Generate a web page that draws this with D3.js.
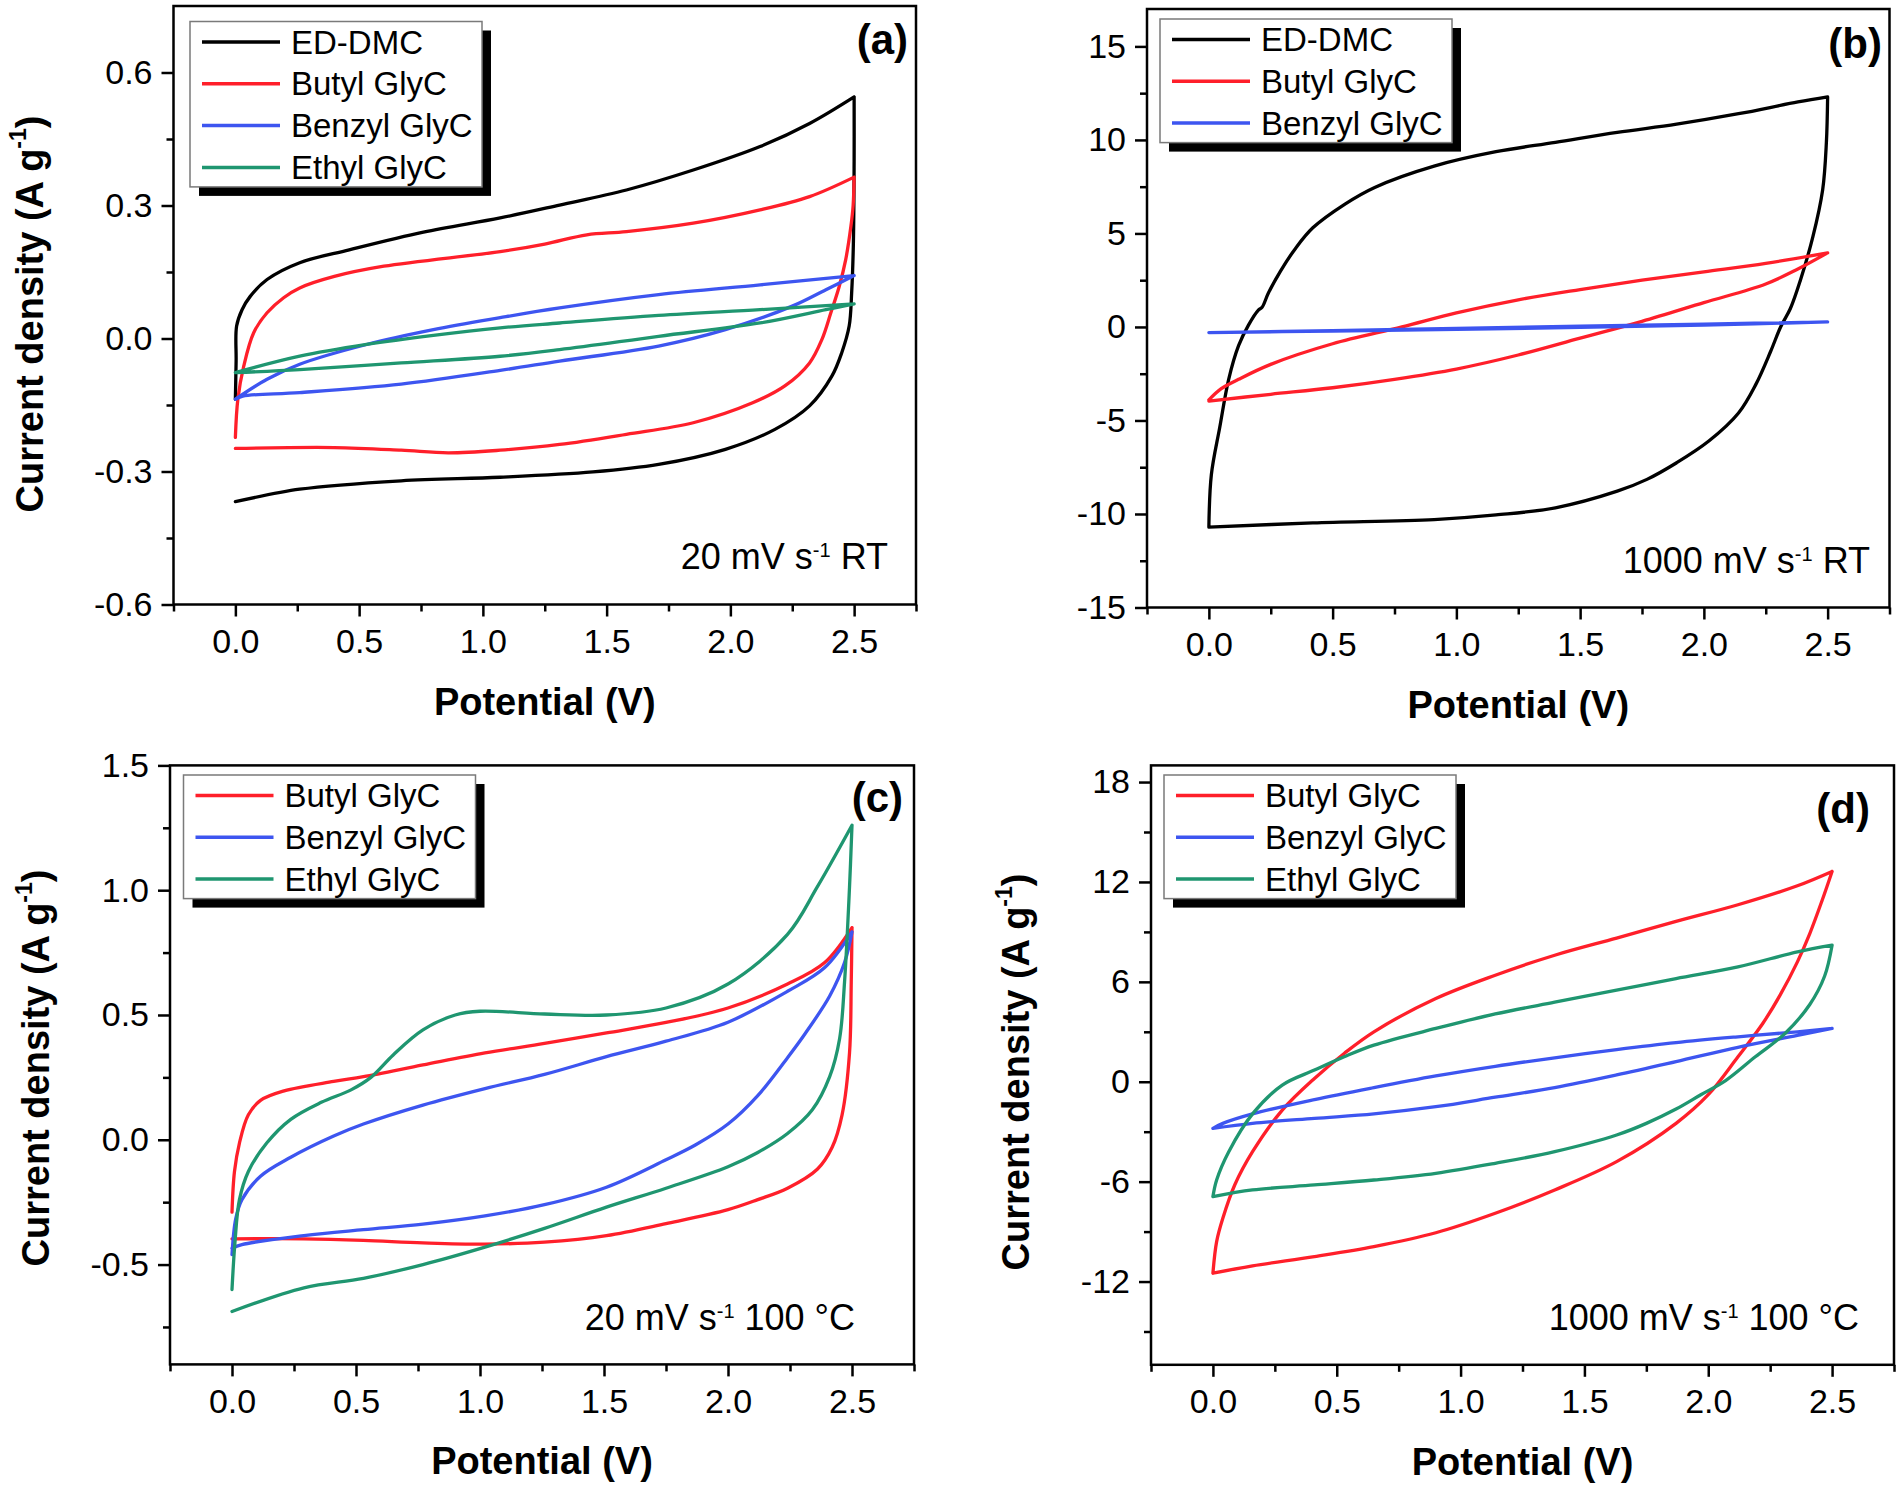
<!DOCTYPE html>
<html>
<head>
<meta charset="utf-8">
<script src="https://cdnjs.cloudflare.com/ajax/libs/d3/7.8.5/d3.min.js"></script>
<style>
  body { margin: 0; background: #fff; }
  text { font-family: "Liberation Sans", Arial, sans-serif; }
</style>
</head>
<body>
<svg id="fig" width="1900" height="1488"></svg>
<script>
// ---- data: [potential V, current density A/g], forward sweep then reverse ----
const xTicks = [0, 0.5, 1.0, 1.5, 2.0, 2.5];
const xMinor = [-0.25, 0.25, 0.75, 1.25, 1.75, 2.25, 2.75];

// (a) 20 mV/s RT
const a_ED_DMC = [[0,-0.137],[0.003,-0.05],[0.005,0.028],[0.027,0.065],[0.06,0.095],[0.128,0.133],[0.26,0.171],[0.46,0.20],[0.76,0.24],[1.07,0.272],[1.31,0.301],[1.58,0.335],[1.85,0.38],[2.12,0.433],[2.32,0.485],[2.5,0.545],
  [2.5,0.40],[2.497,0.215],[2.49,0.103],[2.48,0.028],[2.45,-0.032],[2.41,-0.085],[2.32,-0.152],[2.18,-0.205],[1.98,-0.25],[1.71,-0.284],[1.445,-0.301],[1.07,-0.313],[0.67,-0.321],[0.26,-0.34],[0,-0.368]];
const a_Butyl = [[0,-0.223],[0.01,-0.137],[0.034,-0.062],[0.074,0.013],[0.128,0.058],[0.195,0.092],[0.26,0.114],[0.40,0.14],[0.60,0.163],[1.07,0.196],[1.25,0.213],[1.42,0.234],[1.58,0.241],[1.85,0.26],[2.12,0.29],[2.32,0.32],[2.5,0.364],
  [2.496,0.30],[2.487,0.253],[2.466,0.178],[2.44,0.118],[2.406,0.058],[2.37,-0.002],[2.32,-0.055],[2.22,-0.107],[2.09,-0.145],[1.85,-0.19],[1.58,-0.216],[1.31,-0.239],[1.07,-0.252],[0.86,-0.258],[0.67,-0.252],[0.40,-0.246],[0,-0.248]];
const a_Benzyl = [[0,-0.137],[0.128,-0.092],[0.26,-0.058],[0.53,-0.0135],[0.80,0.02],[1.07,0.047],[1.31,0.069],[1.71,0.099],[2.12,0.121],[2.5,0.142],
  [2.386,0.11],[2.25,0.073],[1.98,0.02],[1.71,-0.017],[1.31,-0.051],[1.07,-0.072],[0.67,-0.103],[0.26,-0.122],[0.03,-0.13],[0,-0.137]];
const a_Ethyl = [[0,-0.077],[0.26,-0.04],[0.53,-0.0135],[0.80,0.007],[1.07,0.024],[1.31,0.035],[1.71,0.052],[2.12,0.065],[2.5,0.078],
  [2.386,0.065],[2.12,0.035],[1.71,0.005],[1.31,-0.025],[1.07,-0.04],[0.67,-0.055],[0.26,-0.07],[0,-0.077]];

// (b) 1000 mV/s RT
const b_ED_DMC = [[0,-10.7],[0.01,-7.9],[0.044,-5.36],[0.08,-2.8],[0.12,-1.0],[0.16,0.1],[0.2,0.9],[0.215,1.05],[0.24,1.8],[0.29,3.0],[0.35,4.2],[0.42,5.3],[0.55,6.57],[0.67,7.46],[0.91,8.6],[1.16,9.37],[1.40,9.87],[1.65,10.4],[1.89,10.84],[2.14,11.4],[2.38,12.03],[2.5,12.3],
  [2.495,9.87],[2.48,7.34],[2.44,4.8],[2.39,2.5],[2.35,1.0],[2.31,0],[2.27,-1.3],[2.21,-3.07],[2.14,-4.6],[2.02,-6.1],[1.89,-7.26],[1.77,-8.15],[1.65,-8.78],[1.40,-9.67],[1.16,-10.05],[0.91,-10.3],[0.42,-10.48],[0,-10.7]];
const b_Butyl = [[0,-3.9],[0.05,-3.3],[0.12,-2.8],[0.25,-2.0],[0.5,-0.9],[0.78,0.0],[1.0,0.75],[1.25,1.45],[1.5,2.0],[1.75,2.5],[2.0,2.95],[2.25,3.4],[2.5,3.96],
  [2.38,3.1],[2.25,2.3],[2.0,1.3],[1.75,0.3],[1.5,-0.6],[1.25,-1.5],[1.0,-2.25],[0.75,-2.8],[0.5,-3.25],[0.25,-3.6],[0,-3.96]];
const b_Benzyl = [[0,-0.3],[0.5,-0.2],[1.0,-0.08],[1.5,0.04],[2.0,0.15],[2.5,0.27],
  [2.0,0.1],[1.5,-0.02],[1.0,-0.13],[0.5,-0.22],[0,-0.3]];

// (c) 20 mV/s 100 C
const c_Butyl = [[0,-0.29],[0.01,-0.127],[0.03,-0.013],[0.066,0.1],[0.115,0.158],[0.21,0.196],[0.41,0.234],[0.53,0.253],[0.77,0.30],[1.02,0.348],[1.26,0.386],[1.51,0.428],[1.75,0.47],[2.0,0.528],[2.24,0.624],[2.39,0.71],[2.5,0.85],
  [2.497,0.633],[2.49,0.348],[2.46,0.1],[2.42,-0.03],[2.36,-0.118],[2.24,-0.194],[2.12,-0.24],[2.0,-0.28],[1.75,-0.336],[1.51,-0.384],[1.26,-0.41],[1.02,-0.418],[0.77,-0.413],[0.53,-0.403],[0.29,-0.397],[0,-0.397]];
const c_Benzyl = [[0,-0.46],[0.015,-0.317],[0.04,-0.24],[0.115,-0.146],[0.237,-0.07],[0.41,0.015],[0.53,0.063],[0.77,0.139],[1.02,0.205],[1.26,0.262],[1.51,0.333],[1.75,0.395],[2.0,0.471],[2.24,0.595],[2.39,0.69],[2.5,0.833],
  [2.47,0.71],[2.41,0.576],[2.31,0.424],[2.24,0.329],[2.12,0.177],[2.0,0.063],[1.87,-0.02],[1.75,-0.08],[1.51,-0.19],[1.26,-0.26],[1.02,-0.305],[0.77,-0.338],[0.53,-0.36],[0.29,-0.384],[0.04,-0.42],[0,-0.435]];
const c_Ethyl = [[0,-0.6],[0.012,-0.41],[0.03,-0.24],[0.066,-0.127],[0.14,-0.013],[0.237,0.082],[0.36,0.15],[0.48,0.2],[0.56,0.25],[0.65,0.34],[0.77,0.44],[0.90,0.5],[1.0,0.515],[1.26,0.504],[1.51,0.5],[1.75,0.528],[2.0,0.624],[2.24,0.823],[2.36,1.013],[2.5,1.26],
  [2.49,1.013],[2.47,0.633],[2.45,0.405],[2.41,0.253],[2.34,0.12],[2.24,0.025],[2.12,-0.051],[2.0,-0.108],[1.75,-0.194],[1.51,-0.27],[1.26,-0.355],[1.02,-0.43],[0.77,-0.50],[0.53,-0.555],[0.29,-0.593],[0,-0.688]];

// (d) 1000 mV/s 100 C
const d_Butyl = [[0,-11.5],[0.015,-9.6],[0.04,-8.2],[0.088,-6.2],[0.16,-4.2],[0.28,-1.7],[0.41,0.2],[0.53,1.7],[0.65,3.0],[0.90,5.0],[1.14,6.4],[1.38,7.6],[1.63,8.63],[1.87,9.63],[2.12,10.63],[2.36,11.77],[2.5,12.63],
  [2.46,10.9],[2.41,8.9],[2.36,7.2],[2.29,5.2],[2.22,3.5],[2.12,1.5],[2.0,-0.78],[1.87,-2.5],[1.63,-4.8],[1.38,-6.5],[1.14,-7.9],[0.90,-9.07],[0.65,-9.9],[0.41,-10.5],[0.16,-11.06],[0,-11.5]];
const d_Benzyl = [[0,-2.8],[0.04,-2.5],[0.16,-1.93],[0.41,-1.07],[0.65,-0.35],[0.90,0.35],[1.14,0.93],[1.38,1.44],[1.63,1.93],[1.87,2.35],[2.12,2.7],[2.36,3.0],[2.5,3.2],
  [2.36,2.78],[2.12,2.07],[1.87,1.21],[1.63,0.41],[1.38,-0.35],[1.14,-0.93],[0.90,-1.5],[0.65,-1.93],[0.41,-2.2],[0.16,-2.5],[0,-2.8]];
const d_Ethyl = [[0,-6.9],[0.015,-5.9],[0.064,-4.2],[0.16,-1.93],[0.28,-0.2],[0.41,0.7],[0.53,1.5],[0.65,2.2],[0.90,3.2],[1.14,4.07],[1.38,4.78],[1.63,5.5],[1.87,6.2],[2.12,6.9],[2.36,7.8],[2.5,8.2],
  [2.47,6.35],[2.41,4.64],[2.31,2.9],[2.19,1.5],[2.07,0.07],[1.97,-0.78],[1.87,-1.64],[1.75,-2.5],[1.63,-3.2],[1.38,-4.2],[1.14,-4.9],[0.90,-5.5],[0.65,-5.9],[0.41,-6.2],[0.16,-6.5],[0,-6.9]];

const colors = { "ED-DMC": "#000000", "Butyl GlyC": "#ff1f2a", "Benzyl GlyC": "#3d55f0", "Ethyl GlyC": "#1f9670" };

const fmt1 = d => d.toFixed(1);
const fmt0 = d => String(d);

const panels = [
  { label: "(a)", box: [173.5, 6, 916, 604.5], y: [-0.6, 0.75],
    yMajor: [-0.6, -0.3, 0, 0.3, 0.6], yMinor: [-0.45, -0.15, 0.15, 0.45], yFmt: fmt1,
    series: [["ED-DMC", a_ED_DMC], ["Butyl GlyC", a_Butyl], ["Benzyl GlyC", a_Benzyl], ["Ethyl GlyC", a_Ethyl]],
    legend: [190, 21.5], labelPos: [908, 54], note: ["20 mV s", " RT"], notePos: [888, 569],
    yTitle: [42.5, 314] },
  { label: "(b)", box: [1147, 9, 1889.5, 607.5], y: [-15, 17],
    yMajor: [-15, -10, -5, 0, 5, 10, 15], yMinor: [-12.5, -7.5, -2.5, 2.5, 7.5, 12.5], yFmt: fmt0,
    series: [["ED-DMC", b_ED_DMC], ["Butyl GlyC", b_Butyl], ["Benzyl GlyC", b_Benzyl]],
    legend: [1160, 19], labelPos: [1882, 58], note: ["1000 mV s", " RT"], notePos: [1870, 573],
    yTitle: null },
  { label: "(c)", box: [170, 765.4, 914, 1364.4], y: [-0.9, 1.5],
    yMajor: [-0.5, 0, 0.5, 1.0, 1.5], yMinor: [-0.75, -0.25, 0.25, 0.75, 1.25], yFmt: fmt1,
    series: [["Butyl GlyC", c_Butyl], ["Benzyl GlyC", c_Benzyl], ["Ethyl GlyC", c_Ethyl]],
    legend: [183.5, 775], labelPos: [903, 812], note: ["20 mV s", " 100 \u00b0C"], notePos: [855, 1330],
    yTitle: [48.5, 1068] },
  { label: "(d)", box: [1151, 765.4, 1894, 1364.8], y: [-17, 19],
    yMajor: [-12, -6, 0, 6, 12, 18], yMinor: [-15, -9, -3, 3, 9, 15], yFmt: fmt0,
    series: [["Butyl GlyC", d_Butyl], ["Benzyl GlyC", d_Benzyl], ["Ethyl GlyC", d_Ethyl]],
    legend: [1164, 775], labelPos: [1870, 823], note: ["1000 mV s", " 100 \u00b0C"], notePos: [1859, 1330],
    yTitle: [1029, 1072] }
];

const svg = d3.select("#fig");
const FONT = "'Liberation Sans', Arial, sans-serif";

function styleAxis(g) {
  g.select(".domain").remove();
  g.selectAll(".tick line").attr("stroke", "#000").attr("stroke-width", 2.5);
  g.selectAll("text").attr("fill", "#000");
  g.attr("font-family", FONT).attr("font-size", 34);
}

function drawPanel(p) {
  const [x0, y0, x1, y1] = p.box;
  const x = d3.scaleLinear().domain([-0.25, 2.75]).range([x0, x1]);
  const y = d3.scaleLinear().domain(p.y).range([y1, y0]);
  const g = svg.append("g");

  // axes: major ticks with labels, minor ticks without
  g.append("g").attr("transform", `translate(0,${y1})`)
    .call(d3.axisBottom(x).tickValues(xTicks).tickSize(12).tickPadding(12).tickFormat(fmt1))
    .call(styleAxis);
  g.append("g").attr("transform", `translate(0,${y1})`)
    .call(d3.axisBottom(x).tickValues(xMinor).tickSize(7).tickFormat(""))
    .call(styleAxis);
  g.append("g").attr("transform", `translate(${x0},0)`)
    .call(d3.axisLeft(y).tickValues(p.yMajor).tickSize(12).tickPadding(9).tickFormat(p.yFmt))
    .call(styleAxis);
  g.append("g").attr("transform", `translate(${x0},0)`)
    .call(d3.axisLeft(y).tickValues(p.yMinor).tickSize(7).tickFormat(""))
    .call(styleAxis);

  // CV loops: forward and reverse sweeps smoothed separately so the vertex stays sharp
  const line = d3.line().x(d => x(d[0])).y(d => y(d[1])).curve(d3.curveCatmullRom.alpha(0.5));
  const loop = pts => {
    const k = d3.maxIndex(pts, d => d[0]);
    return line(pts.slice(0, k + 1)) + line(pts.slice(k));
  };
  g.selectAll("path.cv").data(p.series).join("path")
    .attr("class", "cv")
    .attr("d", d => loop(d[1]))
    .attr("fill", "none")
    .attr("stroke", d => colors[d[0]])
    .attr("stroke-width", 3.3)
    .attr("stroke-linejoin", "round")
    .attr("stroke-linecap", "round");

  // frame
  g.append("rect").attr("x", x0).attr("y", y0).attr("width", x1 - x0).attr("height", y1 - y0)
    .attr("fill", "none").attr("stroke", "#000").attr("stroke-width", 2.5);

  // legend with drop shadow
  const n = p.series.length;
  const lw = 292, lh = 40 + 41.8 * (n - 1);
  const lg = g.append("g").attr("transform", `translate(${p.legend[0]},${p.legend[1]})`);
  lg.append("rect").attr("x", 9).attr("y", 9).attr("width", lw).attr("height", lh).attr("fill", "#000");
  lg.append("rect").attr("width", lw).attr("height", lh).attr("fill", "#fff")
    .attr("stroke", "#7a7a7a").attr("stroke-width", 1.5);
  p.series.forEach((s, i) => {
    const cy = 20.5 + i * 41.8;
    lg.append("line").attr("x1", 12).attr("x2", 90).attr("y1", cy).attr("y2", cy)
      .attr("stroke", colors[s[0]]).attr("stroke-width", 3.5);
    lg.append("text").attr("x", 101).attr("y", cy + 11.5).attr("font-size", 33).text(s[0]);
  });

  // panel letter
  g.append("text").attr("x", p.labelPos[0]).attr("y", p.labelPos[1])
    .attr("text-anchor", "end").attr("font-size", 42).attr("font-weight", "bold").text(p.label);

  // condition note with superscript
  const nt = g.append("text").attr("x", p.notePos[0]).attr("y", p.notePos[1])
    .attr("text-anchor", "end").attr("font-size", 36);
  nt.append("tspan").text(p.note[0]);
  nt.append("tspan").attr("font-size", 20).attr("dy", -12).text("-1");
  nt.append("tspan").attr("dy", 12).text(p.note[1].replace(" ", "\u00a0"));

  // axis titles
  g.append("text").attr("x", (x0 + x1) / 2).attr("y", y1 + 110)
    .attr("text-anchor", "middle").attr("font-size", 38).attr("font-weight", "bold")
    .text("Potential (V)");
  if (p.yTitle) {
    const yt = g.append("text")
      .attr("transform", `translate(${p.yTitle[0]},${p.yTitle[1]}) rotate(-90)`)
      .attr("text-anchor", "middle").attr("font-size", 38).attr("font-weight", "bold");
    yt.append("tspan").text("Current density (A g");
    yt.append("tspan").attr("font-size", 23).attr("dy", -17).text("-1");
    yt.append("tspan").attr("dy", 17).text(")");
  }
}

panels.forEach(drawPanel);
</script>
</body>
</html>
